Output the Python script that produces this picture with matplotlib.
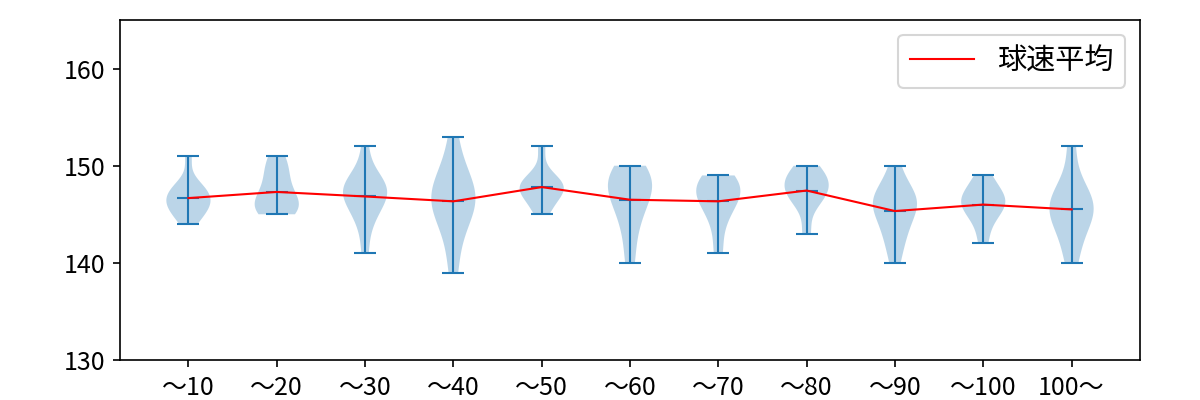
import matplotlib
matplotlib.use("Agg")
import matplotlib.pyplot as plt
import numpy as np

plt.rcParams['font.family'] = ['Noto Sans CJK JP', 'DejaVu Sans']

labels = ['～10', '～20', '～30', '～40', '～50', '～60', '～70', '～80', '～90', '～100', '100～']

speeds = [
    [144, 145, 145, 146, 146, 146, 147, 147, 147, 148, 148, 151],
    [145, 145, 146, 146, 146, 147, 148, 149, 150, 151],
    [141, 144, 145, 146, 147, 147, 147, 148, 148, 148, 149, 152],
    [139, 142, 144, 145, 146, 146, 147, 147, 148, 149, 150, 153],
    [145, 146, 147, 147, 148, 148, 148, 148, 149, 152],
    [140, 143, 145, 146, 147, 148, 148, 149, 149, 150],
    [141, 144, 146, 146, 147, 148, 148, 148, 149],
    [143, 146, 147, 147, 148, 148, 149, 149, 150],
    [140, 142, 143, 144, 145, 146, 146, 146, 147, 147, 148, 150],
    [142, 144, 145, 146, 146, 146, 147, 147, 148, 149],
    [140, 142, 144, 145, 145, 146, 146, 147, 148, 152],
]

means = [np.mean(s) for s in speeds]
pos = np.arange(1, len(labels) + 1)

fig = plt.figure(figsize=(8, 8 / 3), dpi=150)
ax = fig.add_subplot(1, 1, 1)
fig.subplots_adjust(left=0.1, right=0.95, top=0.95, bottom=0.1)

parts = ax.violinplot(speeds, positions=pos, showmeans=True)
for key in ['cbars', 'cmins', 'cmaxes', 'cmeans']:
    parts[key].set_linewidth(1.0)
ax.plot(pos, means, color='red', linewidth=1, label='球速平均')

ax.set_xticks(pos)
ax.set_xticklabels(labels)
ax.set_ylim(130, 165)
ax.set_yticks([130, 140, 150, 160])
ax.tick_params(labelsize=12)
ax.legend(loc='upper right', fontsize=14, handlelength=2.2)

fig.savefig('out.png', dpi=150)
